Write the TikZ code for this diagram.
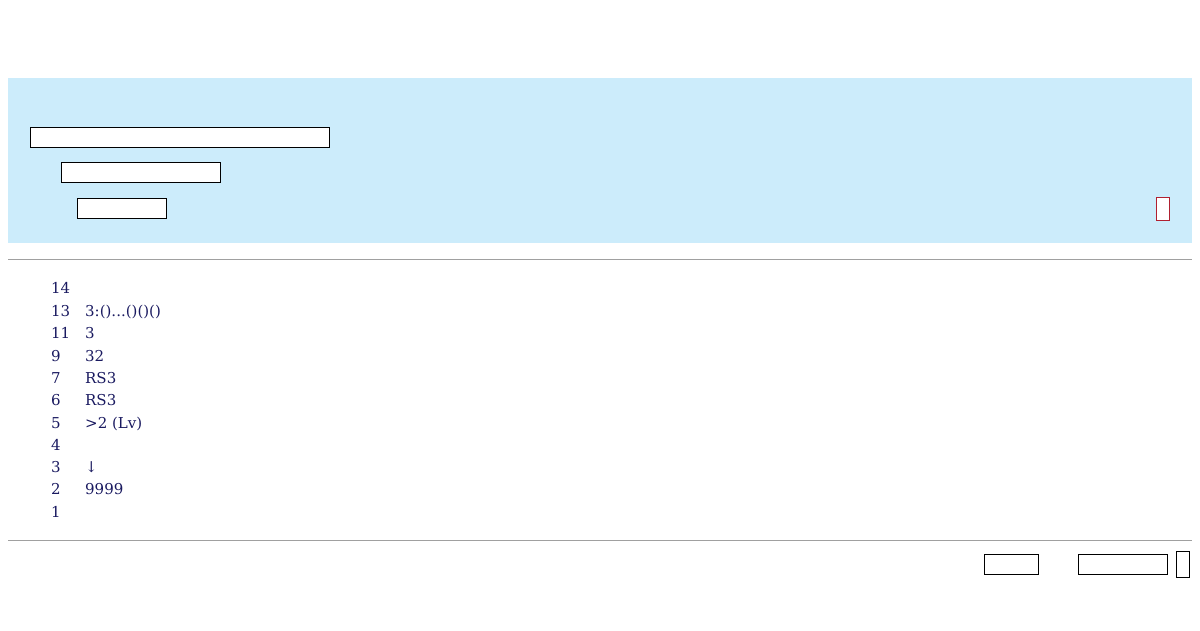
\documentclass[tikz,border=0pt]{standalone}
\usepackage{fontspec}
\setmainfont{DejaVu Serif}
\definecolor{bandblue}{HTML}{CCECFB}
\definecolor{rulegray}{HTML}{A0A0A0}
\definecolor{rownavy}{HTML}{1A1A60}
\definecolor{markred}{HTML}{B02030}
\tikzset{
    field/.style={draw=black, fill=white, line width=0.9pt, inner sep=0pt, outer sep=0pt},
    rownum/.style={anchor=base west, inner sep=0pt, text=rownavy, font=\fontsize{15}{18}\selectfont},
    rowval/.style={rownum}
}
\begin{document}
\begin{tikzpicture}[x=1pt, y=-1pt]
        \useasboundingbox (0,0) rectangle (1200,630);
        \fill[bandblue] (8,78) rectangle (1192,243);
        \node[field, minimum width=299pt, minimum height=20pt] (bar1) at (179.5,137) {};
        \node[field, minimum width=159pt, minimum height=20pt] (bar2) at (140.5,172) {};
        \node[field, minimum width=89pt, minimum height=20pt] (bar3) at (121.5,208) {};
        \node[field, draw=markred, minimum width=13pt, minimum height=23pt] (mark) at (1162.5,208.5) {};
        \draw[rulegray, line width=1pt] (8,259) -- (1192,259);
        \node[rownum] (n14) at (51,293) {14};
        \node[rownum] (n13) at (51,316) {13};
        \node[rowval] (v13) at (85,316) {3:()...()()()};
        \node[rownum] (n11) at (51,338) {11};
        \node[rowval] (v11) at (85,338) {3};
        \node[rownum] (n9) at (51,361) {9};
        \node[rowval] (v9) at (85,361) {32};
        \node[rownum] (n7) at (51,383) {7};
        \node[rowval] (v7) at (85,383) {RS3};
        \node[rownum] (n6) at (51,405) {6};
        \node[rowval] (v6) at (85,405) {RS3};
        \node[rownum] (n5) at (51,428) {5};
        \node[rowval] (v5) at (85,428) {>2 (Lv)};
        \node[rownum] (n4) at (51,450) {4};
        \node[rownum] (n3) at (51,472) {3};
        \node[rowval] (v3) at (85,472) {↓};
        \node[rownum] (n2) at (51,494) {2};
        \node[rowval] (v2) at (85,494) {9999};
        \node[rownum] (n1) at (51,517) {1};
        \draw[rulegray, line width=1pt] (8,540) -- (1192,540);
        \node[field, minimum width=54pt, minimum height=20pt] (btn1) at (1011,564) {};
        \node[field, minimum width=89pt, minimum height=20pt] (btn2) at (1122.5,564) {};
        \node[field, minimum width=13pt, minimum height=26pt] (btn3) at (1182.5,564) {};
    \end{tikzpicture}
\end{document}
